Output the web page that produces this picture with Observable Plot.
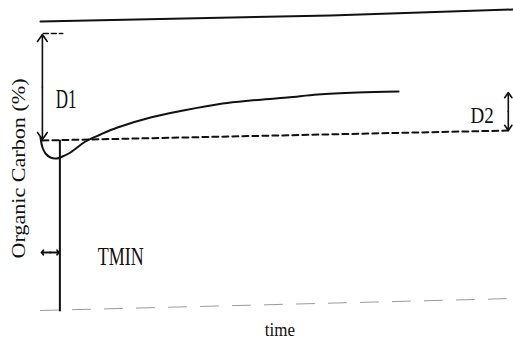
<!DOCTYPE html>
<html>
<head>
<meta charset="utf-8">
<script src="https://cdn.jsdelivr.net/npm/d3@7"></script>
<script src="https://cdn.jsdelivr.net/npm/@observablehq/plot@0.6"></script>
<style>
  html, body { margin: 0; padding: 0; background: #fff; }
  #chart svg { display: block; }
</style>
</head>
<body>
<div id="chart"></div>
<script>
// Schematic curve: organic carbon (%) over time
const curveTime   = [0, 0.42, 1.06, 2.11, 3.38, 4.65, 6.34, 9.51, 12.68, 16.28, 23.26, 30.2, 38.5, 44.4, 52.2, 58.6, 67.0, 75.7];
const curveCarbon = [1.73, 1.63, 1.57, 1.53, 1.52, 1.54, 1.58, 1.69, 1.76, 1.83, 1.93, 2.00, 2.07, 2.10, 2.13, 2.16, 2.18, 2.19];

// Upper reference line
const topTime   = [0, 61.3, 100];
const topCarbon = [2.89, 2.95, 3.01];

// Dashed baseline
const baseTime   = [0.4, 99.4];
const baseCarbon = [1.70, 1.80];

// Short dashed tick at top of D1
const tickTime   = [0.6, 4.7];
const tickCarbon = [2.77, 2.77];

// Faint bottom axis line
const axisTime   = [0, 100];
const axisCarbon = [0, 0.12];

// TMIN vertical line
const tminTime   = [4.1, 4.1];
const tminCarbon = [1.70, 0];

// Double-headed arrows: D1, D2, TMIN marker
const arrowNames = ["D1", "D2", "TMIN"];
const arrowT1 = [0.4, 98.9, 0.2];
const arrowC1 = [2.76, 2.18, 0.58];
const arrowT2 = [0.4, 98.9, 3.9];
const arrowC2 = [1.71, 1.80, 0.58];
const arrowHead = [8, 8, 5];

// Text labels
const labelText   = ["D1", "D2", "TMIN"];
const labelTime   = [3.2, 90.9, 12.1];
const labelCarbon = [2.11, 1.95, 0.54];
const labelSize   = [17, 19, 18];

const xLabel = "time";
const yLabel = "Organic Carbon (%)";

const line = (ts, cs) => ts.map((t, i) => ({t, c: cs[i]}));
// each double-headed arrow = two arrows drawn outward from its midpoint
const halfArrows = arrowNames.flatMap((n, i) => {
  const tm = (arrowT1[i] + arrowT2[i]) / 2, cm = (arrowC1[i] + arrowC2[i]) / 2;
  return [
    {n, t1: tm, c1: cm, t2: arrowT1[i], c2: arrowC1[i], h: arrowHead[i]},
    {n, t1: tm, c1: cm, t2: arrowT2[i], c2: arrowC2[i], h: arrowHead[i]}
  ];
});
const labels = labelText.map((s, i) => ({s, t: labelTime[i], c: labelCarbon[i], size: labelSize[i]}));

const chart = Plot.plot({
  width: 513,
  height: 340,
  marginLeft: 40,
  marginRight: 0,
  marginTop: 0,
  marginBottom: 30,
  style: {background: "#fff", fontFamily: "'Liberation Serif', 'Times New Roman', serif", color: "#111"},
  x: {domain: [0, 100], axis: null},
  y: {domain: [0, 3.1], axis: null},
  marks: [
    Plot.line(line(axisTime, axisCarbon), {x: "t", y: "c", stroke: "#9a9a9a", strokeWidth: 1, strokeDasharray: "18,14"}),
    Plot.line(line(topTime, topCarbon), {x: "t", y: "c", stroke: "#111", strokeWidth: 2}),
    Plot.line(line(tickTime, tickCarbon), {x: "t", y: "c", stroke: "#111", strokeWidth: 1.5, strokeDasharray: "5,3"}),
    Plot.line(line(baseTime, baseCarbon), {x: "t", y: "c", stroke: "#111", strokeWidth: 2, strokeDasharray: "6,4"}),
    Plot.line(line(tminTime, tminCarbon), {x: "t", y: "c", stroke: "#111", strokeWidth: 2}),
    Plot.line(line(curveTime, curveCarbon), {x: "t", y: "c", stroke: "#111", strokeWidth: 2, curve: "catmull-rom"}),
    Plot.arrow(halfArrows.filter(d => d.n !== "TMIN"), {x1: "t1", y1: "c1", x2: "t2", y2: "c2", stroke: "#111", strokeWidth: 1.6, headLength: 8, headAngle: 70}),
    Plot.arrow(halfArrows.filter(d => d.n === "TMIN"), {x1: "t1", y1: "c1", x2: "t2", y2: "c2", stroke: "#111", strokeWidth: 1.8, headLength: 6, headAngle: 100}),
    Plot.text(labels, {x: "t", y: "c", text: "s", fontSize: d => d.size, textAnchor: "start", fill: "#111"}),
    Plot.text([xLabel], {x: [50.6], y: [-0.195], text: d => d, fontSize: 17, fill: "#111"}),
    Plot.text([yLabel], {x: [-4.6], y: [1.42], text: d => d, fontSize: 18, rotate: -90, fill: "#111"})
  ]
});

// vertical stretch of the scanned lettering
const stretch = {"D1": [1, 1.55], "D2": [1, 1.25], "TMIN": [1, 1.45], "time": [1, 1.15], "Organic Carbon (%)": [1.23, 1]};
chart.querySelectorAll("text").forEach(el => {
  const s = stretch[el.textContent];
  if (!s) return;
  let tr = el.getAttribute("transform");
  if (!tr) {
    const x = +el.getAttribute("x") || 0, y = +el.getAttribute("y") || 0;
    el.removeAttribute("x"); el.removeAttribute("y");
    tr = `translate(${x},${y})`;
  }
  el.setAttribute("transform", `${tr} scale(${s[0]},${s[1]})`);
});

document.getElementById("chart").appendChild(chart);
</script>
</body>
</html>
